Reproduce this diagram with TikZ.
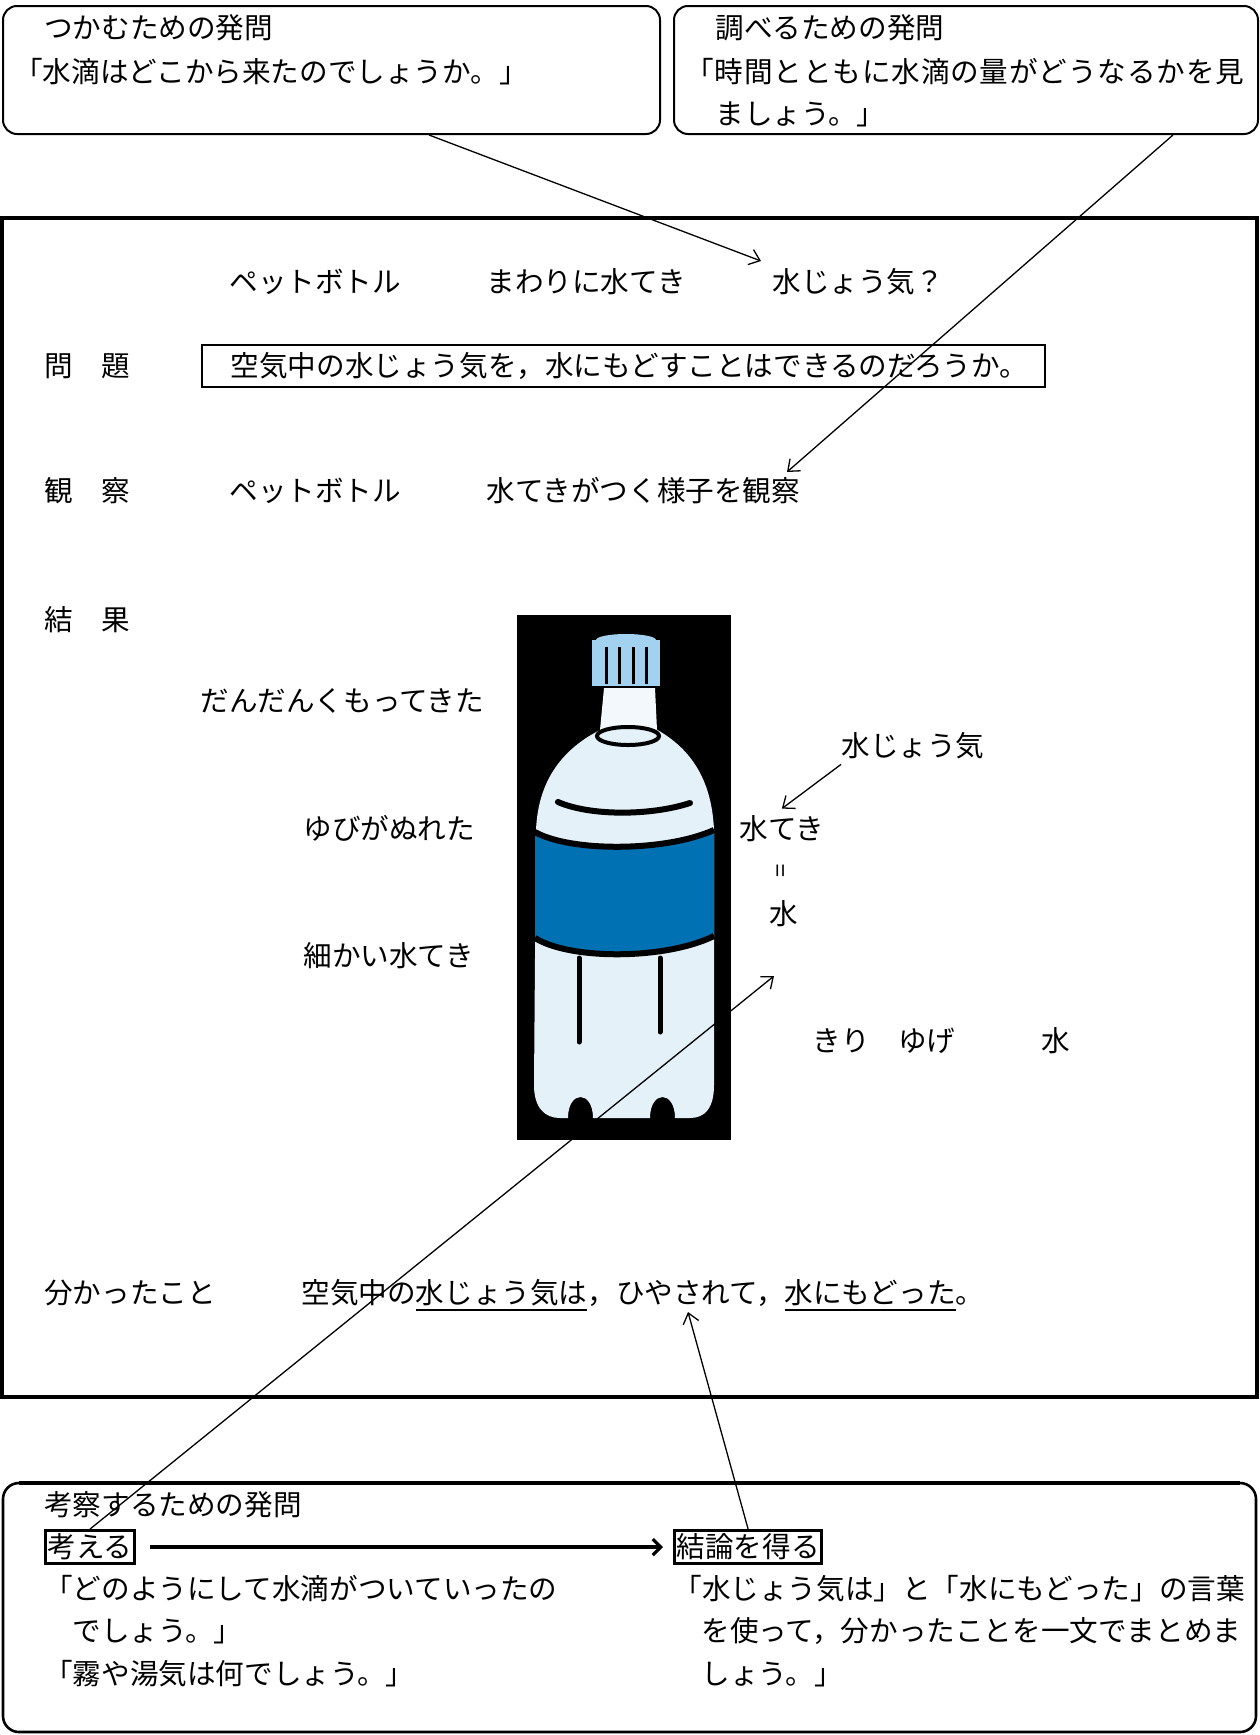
\documentclass[tikz,border=0pt]{standalone}
\usepackage{fontspec}
\setmainfont{Noto Sans CJK JP}
\usetikzlibrary{arrows.meta}

\definecolor{capblue}{HTML}{A3D2F0}
\definecolor{bottleblue}{HTML}{E5F1F9}
\definecolor{labelblue}{HTML}{0071B3}

% underline with a heavier rule
\newcommand\mizuline[1]{\vtop{\hbox{#1}\kern1.5pt\hrule height 0.9pt}}

\begin{document}
\begin{tikzpicture}[x=0.5pt, y=-0.5pt,
        txt/.style={anchor=west, inner sep=0pt, text height=12.3pt, text depth=1.7pt,
                    font=\fontsize{14.3pt}{21pt}\selectfont},
        qbox/.style={draw, rounded corners=7pt, line width=1pt, minimum height=64pt},
        tagbox/.style={txt, draw, line width=1.6pt, inner xsep=1pt, inner ysep=1.2pt},
        thin arrow/.style={line width=0.65pt, -{Straight Barb[length=5pt,width=8pt]}}]
    \useasboundingbox (0,0) rectangle (1259,1735);

    % Question boxes at the top
    \node[qbox, minimum width=328.5pt] (tsukamu) at (331.5,70) {};
    \node[qbox, minimum width=292pt] (shiraberu) at (966,70) {};
    \node[txt] (tsukamuhead) at (44,28) {つかむための発問};
    \node[txt] (tsukamuq) at (14,72) {「水滴はどこから来たのでしょうか。」};
    \node[txt] (shirabehead) at (715,28) {調べるための発問};
    \node[txt] (shirabeq1) at (685,72) {\addfontfeatures{LetterSpace=3}「時間とともに水滴の量がどうなるかを見};
    \node[txt] (shirabeq2) at (715,114) {ましょう。」};

    % Board frame
    \draw[line width=2pt] (2,218) rectangle (1257,1397);

    \node[txt] (bottle1) at (229,282) {ペットボトル};
    \node[txt] (mawari) at (486,282) {まわりに水てき};
    \node[txt] (joki1) at (772,282) {水じょう気？};

    \node[txt] (mondai) at (44,366) {問　題};
    \node[txt, draw, line width=1pt, inner xsep=0pt, inner ysep=3.4pt, text width=421.5pt, align=left] (problem) at (201,366) {　空気中の水じょう気を，水にもどすことはできるのだろうか。};

    \node[txt] (kansatsu) at (44,491) {観　察};
    \node[txt] (bottle2) at (229,491) {ペットボトル};
    \node[txt] (yousu) at (486,491) {水てきがつく様子を観察};

    \node[txt] (kekka) at (44,620) {結　果};
    \node[txt] (kumotte) at (200,701) {だんだんくもってきた};
    \node[txt] (joki2) at (841,746) {水じょう気};
    \node[txt] (yubi) at (303,829) {ゆびがぬれた};
    \node[txt] (suiteki) at (739,829) {水てき};
    \node[rotate=90, inner sep=0pt, font=\fontsize{12pt}{12pt}\selectfont] (equal) at (783,871) {=};
    \node[txt, anchor=center] (mizu) at (784,914) {水};
    \node[txt] (komakai) at (303,956) {細かい水てき};
    \node[txt] (kiri) at (812,1041) {きり　ゆげ　　　水};

    \node[txt] (wakatta) at (44,1293) {分かったこと};
    \node[txt] (matome) at (301,1293) {空気中の\mizuline{水じょう気は}，ひやされて，\mizuline{水にもどった}。};

    % PET bottle
    \fill[black] (517,615) rectangle (731,1140);
    \fill[bottleblue] (604,728) .. controls (558,750) and (538,785) .. (536,830)
        -- (534,1085) .. controls (534,1108) and (545,1118) .. (560,1118)
        -- (568,1118) .. controls (568,1090) and (593,1090) .. (593,1118)
        -- (650,1118) .. controls (650,1090) and (675,1090) .. (675,1118)
        -- (690,1118) .. controls (705,1118) and (714,1108) .. (714,1085)
        -- (714,830) .. controls (712,785) and (695,750) .. (654,728) -- cycle;
    \fill[bottleblue!50!white] (604,688) -- (655,688) -- (657,730) -- (600,730) -- cycle;
    \draw[line width=2pt, fill=bottleblue] (628,736) ellipse [x radius=15.5pt, y radius=4.5pt];
    \fill[capblue] (592,640) rectangle (660,686);
    \fill[capblue] (626,640) ellipse [x radius=15pt, y radius=3pt];
    \foreach \x in {606,619,633,646}
        \draw[line width=1.5pt] (\x,647) -- (\x,684);
    \draw[line width=3pt, line cap=round] (558,802) .. controls (590,816) and (650,816) .. (690,803);
    \fill[labelblue] (535,832) .. controls (570,852) and (665,852) .. (714,830)
        -- (714,936) .. controls (665,960) and (570,960) .. (535,938) -- cycle;
    \draw[line width=3pt] (535,832) .. controls (570,852) and (665,852) .. (714,830);
    \draw[line width=3pt] (535,938) .. controls (570,960) and (665,960) .. (714,936);
    \draw[line width=2.5pt, line cap=round] (579,958) -- (579,1042);
    \draw[line width=2.5pt, line cap=round] (660,958) -- (660,1032);

    % Question box at the bottom
    \draw[line width=1.3pt, rounded corners=8pt] (3,1483) rectangle (1256,1732);
    \draw[line width=2pt] (19,1483) -- (1240,1483);
    \node[txt] (kousatsu) at (44,1505) {考察するための発問};
    \node[tagbox] (kangaeru) at (44,1547) {考える};
    \node[tagbox] (ketsuron) at (673,1547) {結論を得る};
    \draw[line width=1.6pt, -{Straight Barb[length=4pt,width=8pt]}, shorten <=7pt, shorten >=5pt] (kangaeru) -- (ketsuron);
    \node[txt] (kq1) at (44,1589) {「どのようにして水滴がついていったの};
    \node[txt] (kq2) at (72,1631) {でしょう。」};
    \node[txt] (kq3) at (44,1674) {「霧や湯気は何でしょう。」};
    \node[txt] (rq1) at (673,1589) {「水じょう気は」と「水にもどった」の言葉};
    \node[txt] (rq2) at (701,1631) {を使って，分かったことを一文でまとめま};
    \node[txt] (rq3) at (701,1674) {しょう。」};

    % Arrows
    \coordinate (joki1tip) at (761,261);
    \coordinate (yousutip) at (787,472);
    \coordinate (mizutip) at (774,976);
    \coordinate (matometip) at (688,1312);
    \draw[thin arrow] ([xshift=48.75pt]tsukamu.south) -- (joki1tip);
    \draw[thin arrow] ([xshift=103.5pt]shiraberu.south) -- (yousutip);
    \draw[thin arrow] (kangaeru.north) -- (mizutip);
    \draw[thin arrow] (ketsuron.north) -- (matometip);
    \draw[thin arrow] ([yshift=-2pt]joki2.south west) -- ([yshift=3pt]suiteki.north);
\end{tikzpicture}
\end{document}
